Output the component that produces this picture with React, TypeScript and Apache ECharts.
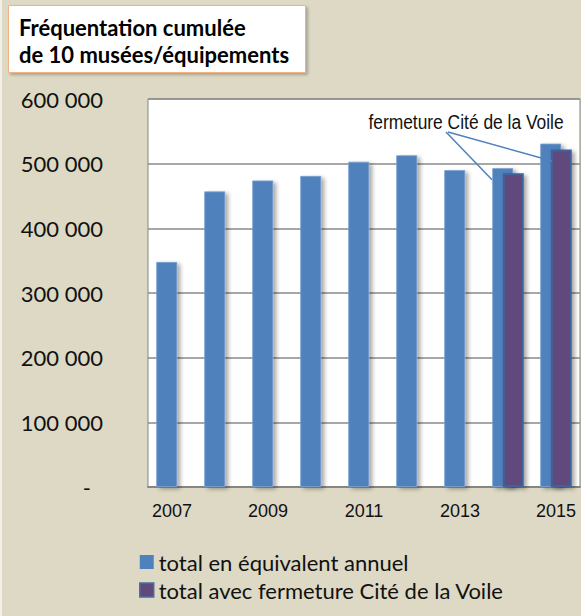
import React, { useEffect, useRef } from "react";
import * as echarts from "echarts";

const years = ["2007", "2008", "2009", "2010", "2011", "2012", "2013", "2014", "2015"];
const totalAnnuel = [348000, 457000, 474000, 481000, 503000, 513000, 490000, 493000, 531000];
const totalFermeture: (number | null)[] = [null, null, null, null, null, null, null, 485000, 522000];
const seriesNames = ["total en équivalent annuel", "total avec fermeture Cité de la Voile"];
const titleLines = ["Fréquentation cumulée", "de 10 musées/équipements"];
const annotationText = "fermeture Cité de la Voile";

const BG = "#DDD9C4";
const BLUE = "#4F81BD";
const PURPLE = "#604A7B";
const ARIAL = "'Liberation Sans', Arial, sans-serif";
const CAL = "Lato, 'Open Sans', sans-serif";

function fmt(v: number) {
  if (v === 0) return "{dash|-}";
  const s = String(v);
  return s.replace(/\B(?=(\d{3})+(?!\d))/g, " ");
}

export default function App() {
  const ref = useRef<HTMLDivElement>(null);
  useEffect(() => {
    if (!ref.current) return;
    const chart = echarts.init(ref.current, undefined, { renderer: "svg" });
    const shadow = {
      shadowColor: "rgba(0,0,0,0.35)",
      shadowBlur: 4,
      shadowOffsetX: 3,
      shadowOffsetY: 2,
    };
    chart.setOption({
      animation: false,
      backgroundColor: BG,
      grid: {
        left: 148,
        top: 99,
        width: 432,
        height: 388,
        show: true,
        backgroundColor: "#FFFFFF",
        borderColor: "#868686",
        borderWidth: 1,
      },
      legend: {
        orient: "vertical",
        left: 139,
        top: 551,
        padding: 0,
        itemWidth: 14,
        itemHeight: 14,
        itemGap: 6,
        textStyle: { fontFamily: CAL, fontSize: 22, color: "#111" },
        data: [
          { name: seriesNames[0], icon: "rect", itemStyle: { color: BLUE, borderWidth: 0 } },
          { name: seriesNames[1], icon: "rect", itemStyle: { color: PURPLE, borderColor: "#4A6FA0", borderWidth: 1.5 } },
        ],
      },
      xAxis: {
        type: "category",
        data: years,
        axisTick: { show: false },
        axisLine: { show: true, lineStyle: { color: "#868686", width: 2 } },
        axisLabel: {
          interval: 1,
          margin: 15,
          fontFamily: ARIAL,
          fontSize: 18,
          color: "#111",
        },
      },
      yAxis: {
        type: "value",
        min: 0,
        max: 600000,
        interval: 100000,
        axisLine: { show: false },
        axisTick: { show: false },
        splitLine: { lineStyle: { color: "#8A8A8A", width: 1.5 } },
        axisLabel: {
          margin: 45,
          fontFamily: CAL,
          fontSize: 22,
          color: "#111",
          formatter: fmt,
          rich: { dash: { fontFamily: CAL, fontSize: 22, color: "#111", padding: [0, 12, 0, 0] } },
        },
      },
      series: [
        {
          name: seriesNames[0],
          type: "bar",
          data: totalAnnuel,
          barWidth: 21,
          barGap: "-50%",
          itemStyle: { color: BLUE, borderColor: "#7FA3CF", borderWidth: 0.8, ...shadow },
        },
        {
          name: seriesNames[1],
          type: "bar",
          data: totalFermeture,
          barWidth: 21,
          barGap: "-50%",
          itemStyle: { color: PURPLE, borderColor: "#3F629A", borderWidth: 2, ...shadow },
        },
      ],
    });

    const p1 = chart.convertToPixel({ gridIndex: 0 }, [7, 475000]) as number[];
    const p2 = chart.convertToPixel({ gridIndex: 0 }, [8, 504000]) as number[];
    const start = [446, 132];
    chart.setOption({
      graphic: [
        { type: "rect", left: 0, top: 0, shape: { width: 2, height: 616 }, style: { fill: "#F2F0E8" }, silent: true },
        {
          type: "group",
          children: [
            {
              type: "rect",
              shape: { x: 8.5, y: 5.5, width: 297, height: 67 },
              style: {
                fill: "#FFFFFF",
                stroke: "#F4B183",
                lineWidth: 1,
                shadowColor: "rgba(0,0,0,0.25)",
                shadowBlur: 3,
                shadowOffsetX: 2,
                shadowOffsetY: 2,
              },
            },
            {
              type: "text",
              x: 19,
              y: 27,
              style: { text: titleLines[0], font: `bold 22px ${CAL}`, fill: "#000", verticalAlign: "middle" },
            },
            {
              type: "text",
              x: 19,
              y: 54,
              style: { text: titleLines[1], font: `bold 22px ${CAL}`, fill: "#000", verticalAlign: "middle" },
            },
          ],
        },
        {
          type: "line",
          shape: { x1: start[0], y1: start[1], x2: p1[0] - 16, y2: p1[1] },
          style: { stroke: BLUE, lineWidth: 1.5 },
          z: 100,
        },
        {
          type: "line",
          shape: { x1: start[0] + 2, y1: start[1], x2: p2[0] - 4, y2: p2[1] },
          style: { stroke: BLUE, lineWidth: 1.5 },
          z: 100,
        },
        {
          type: "text",
          x: 466,
          y: 122,
          scaleX: 0.87,
          style: {
            text: annotationText,
            font: `20px ${ARIAL}`,
            fill: "#111",
            align: "center",
            verticalAlign: "middle",
          },
          z: 100,
        },
      ],
    });
    return () => chart.dispose();
  }, []);
  return <div ref={ref} style={{ position: "fixed", left: 0, top: 0, width: 581, height: 616 }} />;
}
